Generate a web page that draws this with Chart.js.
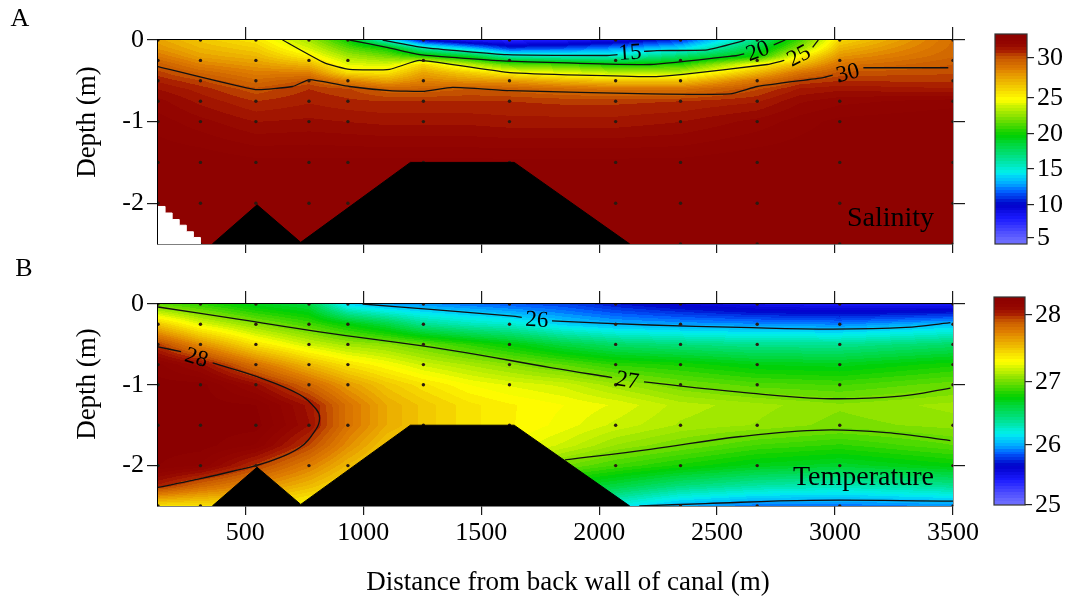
<!DOCTYPE html>
<html>
<head>
<meta charset="UTF-8">
<title>Salinity and temperature along the canal</title>
<script src="https://cdn.jsdelivr.net/npm/chart.js"></script>
<style>
  body { margin: 0; background: #fff; }
  #wrap { position: relative; width: 1080px; height: 604px; }
  canvas { position: absolute; }
</style>
</head>
<body>
<div id="wrap">
  <canvas id="secA" width="985" height="255" style="left:0px;top:0px"></canvas>
  <canvas id="barA" width="95" height="255" style="left:985px;top:0px"></canvas>
  <canvas id="secB" width="985" height="349" style="left:0px;top:255px"></canvas>
  <canvas id="barB" width="95" height="349" style="left:985px;top:255px"></canvas>
</div>
<script>
// ---- axes and sampling grid ----
const xTicks = [500, 1000, 1500, 2000, 2500, 3000, 3500];
const depthTicks = [0, -1, -2];
const stationX = [130, 310, 545, 770, 935, 1255, 1620, 2070, 2345, 2670, 3020, 3500];
const stationDepth = [0, -0.25, -0.5, -0.75, -1, -1.5, -2, -2.5];

// canal bottom (black)
const bottomX = [360, 550, 735, 1200, 1640, 2130];
const bottomDepth = [-2.5, -2.02, -2.48, -1.5, -1.5, -2.5];

// ---- salinity (panel A) ----
const salinityX = [130, 310, 545, 770, 935, 1100, 1255, 1450, 1620, 1850, 2070, 2345, 2670, 2850, 3020, 3500];
const salinityDepth = [0, -0.1, -0.2, -0.3, -0.4, -0.5, -0.6, -0.75, -1, -1.5, -2, -2.5];
const salinityProfiles = [
  [27.5, 28.0, 28.8, 29.8, 30.4, 30.9, 31.3, 31.8, 32.2, 32.7, 32.7, 32.7],
  [26.5, 27.0, 27.6, 28.5, 29.5, 30.3, 30.8, 31.2, 31.8, 32.7, 32.7, 32.7],
  [25.6, 26.3, 27.0, 27.8, 28.6, 29.3, 30.0, 30.6, 31.3, 32.5, 32.7, 32.7],
  [23.0, 24.0, 25.3, 27.0, 28.6, 30.0, 30.6, 30.9, 31.4, 32.5, 32.7, 32.7],
  [20.0, 21.5, 23.0, 24.3, 25.8, 28.5, 30.3, 30.7, 31.3, 32.5, 32.7, 32.7],
  [15.0, 20.0, 22.0, 24.0, 25.6, 27.5, 29.6, 30.6, 31.2, 32.5, 32.7, 32.7],
  [10.0, 16.0, 20.5, 26.0, 27.5, 28.5, 29.6, 30.6, 31.2, 32.5, 32.7, 32.7],
  [8.0, 13.5, 19.0, 23.5, 26.3, 28.0, 29.9, 30.6, 31.2, 32.5, 32.7, 32.7],
  [7.5, 11.0, 16.0, 21.5, 25.0, 27.8, 29.7, 30.6, 31.1, 32.5, 32.7, 32.7],
  [8.0, 11.5, 15.5, 21.0, 24.3, 27.0, 29.3, 30.5, 31.1, 32.5, 32.7, 32.7],
  [9.0, 12.5, 15.5, 20.0, 23.5, 26.5, 29.0, 30.5, 31.1, 32.5, 32.7, 32.7],
  [11.0, 14.0, 17.5, 20.5, 23.5, 26.5, 29.0, 30.6, 31.3, 32.5, 32.7, 32.7],
  [17.0, 18.5, 20.0, 25.0, 27.0, 29.0, 30.2, 30.9, 31.8, 32.7, 32.7, 32.7],
  [21.0, 22.5, 25.0, 27.0, 29.0, 30.3, 31.0, 31.6, 32.2, 32.7, 32.7, 32.7],
  [26.0, 27.0, 28.0, 29.0, 30.0, 30.6, 31.2, 31.9, 32.5, 32.7, 32.7, 32.7],
  [29.2, 29.3, 29.5, 29.9, 30.2, 30.5, 31.0, 32.2, 32.7, 32.7, 32.7, 32.7]
];
const salinityBlank = [[130, -2.04], [160, -2.12], [190, -2.2], [220, -2.27], [250, -2.35], [280, -2.42], [310, -2.5]];
const salinity15 = [[1082, 0], [1250, -0.09], [1609, -0.18], [2033, -0.19], [2078, -0.18], [2131, null], [2190, -0.14], [2245, -0.13], [2458, -0.12], [2598, -0.02], [2619, 0]];
const salinity20 = [[942, 0], [1100, -0.09], [1239, -0.18], [1621, -0.26], [2216, -0.3], [2585, -0.19], [2615, -0.17], [2670, null], [2740, -0.06], [2789, 0]];
const salinity25 = [[658, 0], [836, -0.28], [942, -0.36], [1112, -0.36], [1239, -0.25], [1621, -0.4], [2216, -0.45], [2356, -0.42], [2712, -0.3], [2785, -0.25], [2844, null], [2905, -0.09], [2929, 0]];
const salinity30 = [[130, -0.325], [543, -0.607], [700, -0.57], [773, -0.485], [942, -0.57], [1112, -0.62], [1252, -0.63], [1379, -0.58], [1621, -0.62], [2216, -0.66], [2555, -0.66], [2670, -0.57], [2950, -0.46], [2990, -0.43], [3052, null], [3120, -0.34], [3480, -0.34]];
const salinityLabels = [['15', 2131, -0.15], ['20', 2672, -0.13], ['25', 2846, -0.19], ['30', 3054, -0.40]];
const salinityBarValues = [4.1, 5, 10, 15, 20, 25, 30, 32.9];
const salinityBarPos = [0, 0.029, 0.186, 0.357, 0.524, 0.695, 0.886, 1];
const salinityTicks = [5, 10, 15, 20, 25, 30];

// ---- temperature (panel B) ----
const temperatureX = [130, 310, 545, 770, 935, 1100, 1255, 1450, 1620, 1850, 2070, 2345, 2670, 3020, 3500];
const temperatureDepth = [0, -0.25, -0.5, -0.75, -1, -1.25, -1.5, -1.75, -2, -2.25, -2.5];
const temperatureProfiles = [
  [26.95, 27.5, 27.97, 28.22, 28.27, 28.27, 28.27, 28.27, 28.25, 28.02, 27.4],
  [26.85, 27.25, 27.7, 28.1, 28.27, 28.27, 28.27, 28.27, 28.2, 27.85, 27.4],
  [26.7, 27.05, 27.4, 27.8, 28.1, 28.25, 28.27, 28.2, 27.97, 27.7, 27.4],
  [26.6, 26.9, 27.2, 27.55, 27.85, 28.06, 28.08, 27.95, 27.75, 27.55, 27.3],
  [26.1, 26.75, 27.1, 27.4, 27.65, 27.8, 27.8, 27.7, 27.55, 27.4, 27.3],
  [25.98, 26.6, 27.05, 27.3, 27.5, 27.6, 27.6, 27.5, 27.4, 27.3, 27.2],
  [25.95, 26.4, 26.97, 27.2, 27.4, 27.5, 27.5, 27.45, 27.35, 27.25, 27.2],
  [25.9, 26.3, 26.85, 27.12, 27.3, 27.4, 27.4, 27.35, 27.3, 27.2, 27.1],
  [25.85, 26.25, 26.75, 27.05, 27.25, 27.35, 27.35, 27.3, 27.2, 27.1, 27.0],
  [25.8, 26.1, 26.6, 26.95, 27.2, 27.3, 27.28, 27.2, 27.0, 26.7, 26.5],
  [25.7, 26.02, 26.5, 26.85, 27.1, 27.25, 27.2, 27.08, 26.9, 26.6, 26.2],
  [25.6, 25.98, 26.45, 26.8, 27.0, 27.15, 27.12, 27.0, 26.8, 26.45, 26.0],
  [25.5, 25.95, 26.4, 26.72, 26.93, 27.1, 27.08, 26.9, 26.7, 26.35, 25.9],
  [25.45, 25.93, 26.4, 26.7, 26.9, 27.05, 27.02, 26.85, 26.65, 26.3, 25.9],
  [25.45, 26.05, 26.5, 26.8, 26.98, 27.1, 27.06, 26.95, 26.75, 26.4, 25.95]
];
const temperature26 = [[997, 0], [1300, -0.07], [1634, -0.15], [1672, -0.165], [1736, null], [1800, -0.21], [2216, -0.26], [2600, -0.29], [2992, -0.31], [3300, -0.29], [3489, -0.23]];
const temperature27 = [[130, -0.037], [475, -0.19], [815, -0.346], [1367, -0.57], [1800, -0.79], [2055, -0.91], [2118, null], [2190, -0.965], [2598, -1.09], [2950, -1.17], [3277, -1.14], [3489, -1.04]];
const temperature27Low = [[1855, -1.93], [2216, -1.8], [2600, -1.64], [2950, -1.56], [3250, -1.6], [3489, -1.69]];
const temperature26Low = [[2170, -2.5], [2450, -2.47], [2900, -2.43], [3500, -2.44]];
const temperature28 = [[130, -0.53], [228, -0.59], [293, null], [362, -0.73], [550, -0.9], [730, -1.12], [800, -1.3], [815, -1.41], [800, -1.55], [730, -1.78], [600, -1.95], [446, -2.07], [280, -2.18], [130, -2.27]];
const temperatureLabels = [['26', 1736, -0.19], ['27', 2120, -0.94], ['28', 293, -0.66]];
const temperatureBarValues = [25, 26, 27, 28, 28.27];
const temperatureBarPos = [0, 0.288, 0.591, 0.913, 1];
const temperatureTicks = [25, 26, 27, 28];

// ---- styles ----
const SERIF = "'Liberation Serif', 'Times New Roman', serif";
const labelTilt = { '15': -4, '20': -20, '25': -28, '30': -14, '26': 3, '27': 9, '28': 17 };
const colorStops = [
  [0.00, '#7878ff'], [0.06, '#4c4cff'], [0.12, '#1a1aff'], [0.19, '#0000c8'],
  [0.25, '#0060ff'], [0.29, '#00b0ff'], [0.34, '#00f0f0'], [0.42, '#00e080'],
  [0.52, '#00d000'], [0.60, '#80e000'], [0.69, '#ffff00'], [0.76, '#f0c000'],
  [0.83, '#e08000'], [0.886, '#c85800'], [0.92, '#a81c00'], [0.95, '#940600'], [1.00, '#8b0000']
];

function hexRgb(h) { return [1, 3, 5].map(i => parseInt(h.substr(i, 2), 16)); }
const LUT = [];
for (let k = 0; k < 256; k++) {
  const t = k / 255;
  let i = 0;
  while (i < colorStops.length - 2 && t > colorStops[i + 1][0]) i++;
  const [t0, c0] = colorStops[i], [t1, c1] = colorStops[i + 1];
  const f = Math.min(1, Math.max(0, (t - t0) / (t1 - t0)));
  const a = hexRgb(c0), b = hexRgb(c1);
  LUT.push(a.map((v, j) => Math.round(v + (b[j] - v) * f)));
}

function interp(xs, ys, v) {
  if (v <= xs[0]) return ys[0];
  for (let i = 0; i < xs.length - 1; i++) {
    if (v <= xs[i + 1]) return ys[i] + (ys[i + 1] - ys[i]) * (v - xs[i]) / (xs[i + 1] - xs[i]);
  }
  return ys[ys.length - 1];
}
function bracket(arr, v) {
  const n = arr.length, asc = arr[n - 1] > arr[0];
  for (let i = 0; i < n - 1; i++) {
    const a = arr[i], b = arr[i + 1];
    if (asc ? v <= b : v >= b) return [i, Math.min(1, Math.max(0, (v - a) / (b - a)))];
  }
  return [n - 2, 1];
}
function lutColor(t) {
  const q = Math.round(Math.min(1, Math.max(0, t)) * 72) / 72;
  return LUT[Math.round(q * 255)];
}

function fieldPlugin(gx, gd, profiles, barValues, barPos) {
  return {
    id: 'field',
    beforeDatasetsDraw(chart) {
      const { ctx, chartArea: a, scales } = chart;
      const w = Math.round(a.right - a.left), h = Math.round(a.bottom - a.top);
      const off = document.createElement('canvas');
      off.width = w; off.height = h;
      const octx = off.getContext('2d');
      const img = octx.createImageData(w, h);
      const cols = [];
      for (let px = 0; px < w; px++) cols.push(bracket(gx, scales.x.getValueForPixel(a.left + px + 0.5)));
      for (let py = 0; py < h; py++) {
        const [j, fy] = bracket(gd, scales.y.getValueForPixel(a.top + py + 0.5));
        for (let px = 0; px < w; px++) {
          const [i, fx] = cols[px];
          const p0 = profiles[i], p1 = profiles[i + 1];
          const v = p0[j] * (1 - fx) * (1 - fy) + p1[j] * fx * (1 - fy) + p0[j + 1] * (1 - fx) * fy + p1[j + 1] * fx * fy;
          const c = lutColor(interp(barValues, barPos, v));
          const k = (py * w + px) * 4;
          img.data[k] = c[0]; img.data[k + 1] = c[1]; img.data[k + 2] = c[2]; img.data[k + 3] = 255;
        }
      }
      octx.putImageData(img, 0, 0);
      ctx.drawImage(off, a.left, a.top);
    }
  };
}

function contourLabelPlugin(labels) {
  return {
    id: 'contourLabels',
    afterDatasetsDraw(chart) {
      const { ctx, scales } = chart;
      labels.forEach(([text, x, y]) => {
        ctx.save();
        ctx.translate(scales.x.getPixelForValue(x), scales.y.getPixelForValue(y));
        ctx.rotate((labelTilt[text] || 0) * Math.PI / 180);
        ctx.font = '23px ' + SERIF;
        ctx.fillStyle = '#000';
        ctx.textAlign = 'center';
        ctx.textBaseline = 'middle';
        ctx.fillText(text, 0, 1);
        ctx.restore();
      });
    }
  };
}

function textPlugin(items) {
  return {
    id: 'texts',
    afterDraw(chart) {
      const ctx = chart.ctx;
      items.forEach(it => {
        ctx.save();
        ctx.font = it.size + 'px ' + SERIF;
        ctx.fillStyle = '#000';
        ctx.textAlign = it.align || 'center';
        ctx.textBaseline = 'middle';
        ctx.translate(it.x, it.y);
        if (it.rot) ctx.rotate(it.rot * Math.PI / 180);
        ctx.fillText(it.text, 0, 0);
        ctx.restore();
      });
    }
  };
}

function axis(position, min, max, ticks, size, tickLength, showLabels) {
  const vertical = position === 'left' || position === 'right';
  return {
    type: 'linear', position, min, max, z: 1,
    afterBuildTicks: s => { s.ticks = ticks.map(v => ({ value: v })); },
    afterFit: s => {
      if (vertical) s.width = size; else s.height = size;
      s.paddingLeft = s.paddingRight = s.paddingTop = s.paddingBottom = 0;
    },
    grid: { drawOnChartArea: false, drawTicks: true, tickLength, color: '#1a1a1a', lineWidth: 1.2 },
    border: { display: true, color: '#000', width: 1.4 },
    ticks: {
      display: showLabels, autoSkip: false, maxRotation: 0, padding: 3, color: '#000',
      font: { family: SERIF, size: 26 }, callback: v => String(v)
    }
  };
}

function pts(arr) { return arr.map(p => ({ x: p[0], y: p[1] })); }

function section(id, spec) {
  const dots = [];
  stationX.forEach(x => stationDepth.forEach(d => dots.push({ x, y: d })));
  const datasets = [
    { data: pts(bottomX.map((x, i) => [x, bottomDepth[i]])), showLine: true, fill: 'start',
      backgroundColor: '#000', borderColor: '#000', borderWidth: 1, pointRadius: 0, tension: 0, order: 0 },
    { data: dots, showLine: false, pointRadius: 1.7, pointBackgroundColor: '#2b1a10', pointBorderWidth: 0, order: 2 }
  ];
  if (spec.blank) {
    datasets.push({ data: pts(spec.blank), showLine: true, stepped: 'before', fill: 'start',
      backgroundColor: '#fff', borderColor: '#fff', borderWidth: 1, pointRadius: 0, order: 1 });
  }
  spec.contours.forEach(c => datasets.push({
    data: pts(c), showLine: true, spanGaps: false, borderColor: '#111', borderWidth: 1.3,
    pointRadius: 0, tension: spec.tension, fill: false, order: 3
  }));
  new Chart(document.getElementById(id), {
    type: 'scatter',
    data: { datasets },
    options: {
      responsive: false, animation: false, events: [],
      layout: { padding: 0 },
      plugins: { legend: { display: false }, tooltip: { enabled: false } },
      scales: {
        x: axis('bottom', 130, 3500, xTicks, spec.bottom, 9, spec.xLabels),
        xTop: axis('top', 130, 3500, xTicks, spec.top, 13, false),
        y: axis('left', -2.5, 0, depthTicks, 158, 11, true),
        yRight: axis('right', -2.5, 0, depthTicks, 32, 12, false)
      }
    },
    plugins: [fieldPlugin(spec.gx, spec.gd, spec.profiles, spec.barValues, spec.barPos),
              contourLabelPlugin(spec.labels), textPlugin(spec.texts)]
  });
}

function colorBar(id, spec) {
  const barPlugin = {
    id: 'bar',
    beforeDatasetsDraw(chart) {
      const { ctx, chartArea: a, scales } = chart;
      for (let py = Math.floor(a.top); py < a.bottom; py++) {
        const c = lutColor(scales.y.getValueForPixel(py + 0.5));
        ctx.fillStyle = 'rgb(' + c.join(',') + ')';
        ctx.fillRect(a.left, py, a.right - a.left, 1);
      }
      ctx.strokeStyle = '#333';
      ctx.lineWidth = 1.2;
      ctx.strokeRect(a.left, a.top, a.right - a.left, a.bottom - a.top);
    }
  };
  new Chart(document.getElementById(id), {
    type: 'scatter',
    data: { datasets: [] },
    options: {
      responsive: false, animation: false, events: [],
      layout: { padding: spec.padding },
      plugins: { legend: { display: false }, tooltip: { enabled: false } },
      scales: {
        x: { display: false, min: 0, max: 1 },
        y: {
          type: 'linear', position: 'right', min: 0, max: 1,
          afterBuildTicks: s => { s.ticks = spec.ticks.map(v => ({ value: interp(spec.values, spec.pos, v) })); },
          afterFit: s => { s.width = spec.width; s.paddingTop = s.paddingBottom = 0; },
          grid: { drawOnChartArea: false, drawTicks: true, tickLength: 7, color: '#222', lineWidth: 1.2 },
          border: { display: false },
          ticks: { autoSkip: false, padding: 3, color: '#000', font: { family: SERIF, size: 26 },
                   callback: (v, i) => String(spec.ticks[i]) }
        }
      }
    },
    plugins: [barPlugin]
  });
}

section('secA', {
  gx: salinityX, gd: salinityDepth, profiles: salinityProfiles,
  barValues: salinityBarValues, barPos: salinityBarPos,
  blank: salinityBlank, tension: 0.15,
  contours: [salinity15, salinity20, salinity25, salinity30],
  labels: salinityLabels, top: 40, bottom: 11, xLabels: false,
  texts: [
    { text: 'A', x: 20, y: 19, size: 26 },
    { text: 'Depth (m)', x: 88, y: 122, size: 27, rot: -90 },
    { text: 'Salinity', x: 934, y: 219, size: 28, align: 'right' }
  ]
});
section('secB', {
  gx: temperatureX, gd: temperatureDepth, profiles: temperatureProfiles,
  barValues: temperatureBarValues, barPos: temperatureBarPos,
  tension: 0.4,
  contours: [temperature26, temperature27, temperature27Low, temperature26Low, temperature28],
  labels: temperatureLabels, top: 49, bottom: 98, xLabels: true,
  texts: [
    { text: 'B', x: 24, y: 14, size: 26 },
    { text: 'Depth (m)', x: 88, y: 129, size: 27, rot: -90 },
    { text: 'Temperature', x: 934, y: 223, size: 28, align: 'right' },
    { text: 'Distance from back wall of canal (m)', x: 568, y: 328, size: 27 }
  ]
});
colorBar('barA', { values: salinityBarValues, pos: salinityBarPos, ticks: salinityTicks,
  padding: { left: 10, top: 34, bottom: 11, right: 0 }, width: 53 });
colorBar('barB', { values: temperatureBarValues, pos: temperatureBarPos, ticks: temperatureTicks,
  padding: { left: 9, top: 42, bottom: 99, right: 0 }, width: 55 });
</script>
</body>
</html>
